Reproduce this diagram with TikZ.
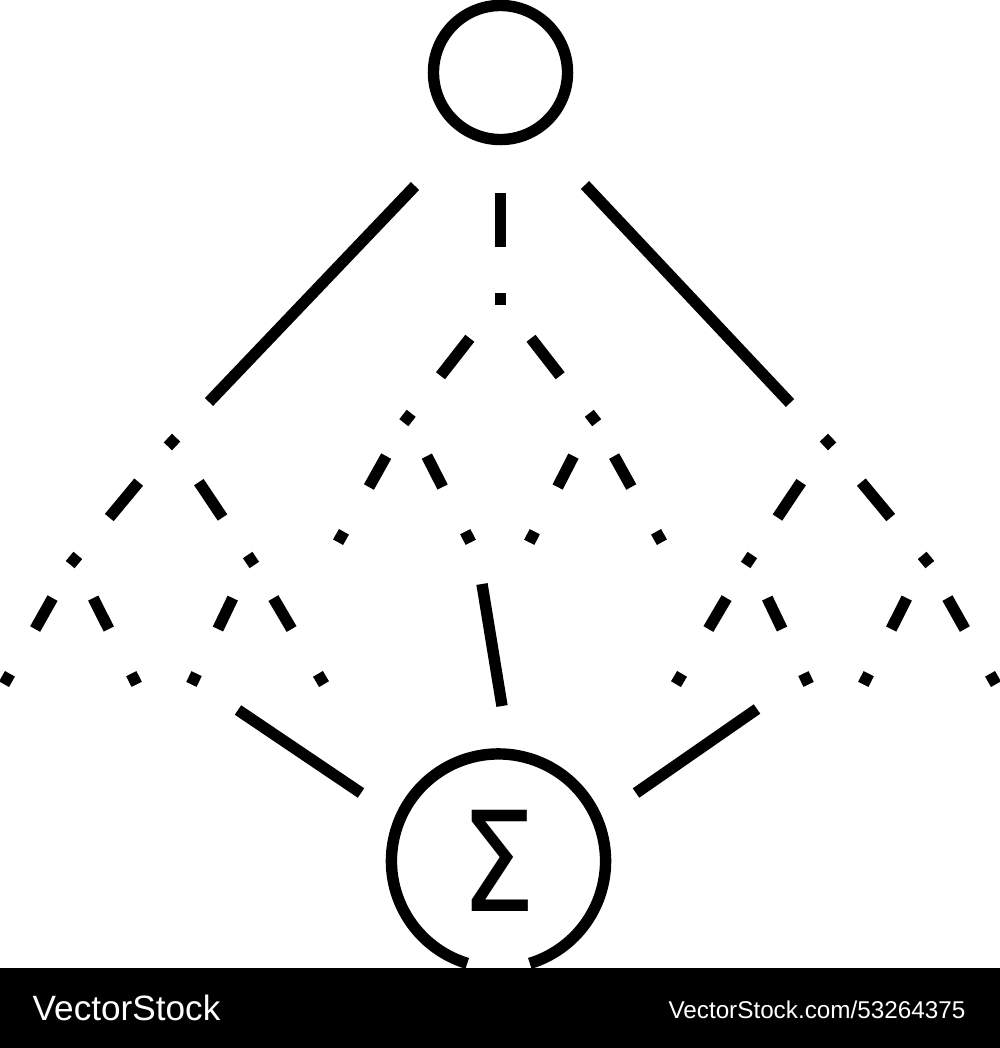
\documentclass[tikz,border=0pt]{standalone}
\usepackage{fontspec}
\setmainfont{Liberation Sans}
\newfontfamily\sigmafont{DejaVu Sans}
\usetikzlibrary{calc}

\newcommand{\dashedge}[4]{\draw[branch] ($(#1)!#3!(#2)$) -- ($(#1)!#4!(#2)$);}
\newcommand{\treedot}[2]{\draw[branch] ($(#1)!1.7pt!(#2)$) -- ($(#1)!-1.7pt!(#2)$);}

\begin{document}
\begin{tikzpicture}[x=0.01cm, y=-0.01cm, line width=3.25pt,
		branch/.style={line cap=butt},
		ring/.style={circle, inner sep=0pt, outer sep=0pt}]
		\useasboundingbox (0,0) rectangle (1000,1048);
		%circles
		\node[ring, draw, minimum size=1.34cm] (top) at (500.5,72.5) {};
		\node[ring, minimum size=2.14cm, font=\sigmafont\fontsize{39.5}{40}\selectfont] (sum) at (498.5,861) {\scalebox{0.86}[1]{Σ}};
		\draw[branch] (sum.253) arc[start angle=253, end angle=-73, radius=1.07cm];
		%points of the trees
		\coordinate (m0) at (500.5,299);
		\coordinate (m1) at (407.5,418);
		\coordinate (m2) at (593,418);
		\coordinate (m11) at (341,537);
		\coordinate (m12) at (468,537);
		\coordinate (m21) at (532,537);
		\coordinate (m22) at (659,537);
		\coordinate (l0) at (172,442);
		\coordinate (l1) at (74,560);
		\coordinate (l2) at (251,560);
		\coordinate (l11) at (7,679);
		\coordinate (l12) at (134,679);
		\coordinate (l21) at (194,679);
		\coordinate (l22) at (321,679);
		\coordinate (r0) at (828,442);
		\coordinate (r1) at (749,560);
		\coordinate (r2) at (926,560);
		\coordinate (r11) at (679,679);
		\coordinate (r12) at (806,679);
		\coordinate (r21) at (866,679);
		\coordinate (r22) at (993,679);
		%solid lines
		\coordinate (tl1) at (415,186);
		\coordinate (tl2) at (209,402);
		\coordinate (tr1) at (585,185);
		\coordinate (tr2) at (790,403);
		\coordinate (bl1) at (238,710);
		\coordinate (bl2) at (361,793);
		\coordinate (bm1) at (482,584);
		\coordinate (bm2) at (502,706);
		\coordinate (br1) at (757,709);
		\coordinate (br2) at (636,793);
		\draw[branch] (tl1) -- (tl2);
		\draw[branch] (tr1) -- (tr2);
		\draw[branch] (bl1) -- (bl2);
		\draw[branch] (bm1) -- (bm2);
		\draw[branch] (br1) -- (br2);
		%middle tree
		\dashedge{top.south}{m0}{0.335}{0.674}
		\dashedge{m0}{m1}{0.33}{0.645}
		\dashedge{m0}{m2}{0.33}{0.645}
		\dashedge{m1}{m11}{0.32}{0.58}
		\dashedge{m1}{m12}{0.32}{0.58}
		\dashedge{m2}{m21}{0.32}{0.58}
		\dashedge{m2}{m22}{0.32}{0.58}
		\treedot{m0}{top.south}
		\treedot{m1}{m0}
		\treedot{m2}{m0}
		\treedot{m11}{m1}
		\treedot{m12}{m1}
		\treedot{m21}{m2}
		\treedot{m22}{m2}
		%left tree
		\dashedge{l0}{l1}{0.34}{0.64}
		\dashedge{l0}{l2}{0.34}{0.64}
		\dashedge{l1}{l11}{0.32}{0.58}
		\dashedge{l1}{l12}{0.32}{0.58}
		\dashedge{l2}{l21}{0.32}{0.58}
		\dashedge{l2}{l22}{0.32}{0.58}
		\treedot{l0}{tl1}
		\treedot{l1}{l0}
		\treedot{l2}{l0}
		\treedot{l11}{l1}
		\treedot{l12}{l1}
		\treedot{l21}{l2}
		\treedot{l22}{l2}
		%right tree
		\dashedge{r0}{r1}{0.34}{0.64}
		\dashedge{r0}{r2}{0.34}{0.64}
		\dashedge{r1}{r11}{0.32}{0.58}
		\dashedge{r1}{r12}{0.32}{0.58}
		\dashedge{r2}{r21}{0.32}{0.58}
		\dashedge{r2}{r22}{0.32}{0.58}
		\treedot{r0}{tr1}
		\treedot{r1}{r0}
		\treedot{r2}{r0}
		\treedot{r11}{r1}
		\treedot{r12}{r1}
		\treedot{r21}{r2}
		\treedot{r22}{r2}
		%watermark
		\fill (0,968) rectangle (1000,1048);
		\node[white, anchor=base west, inner sep=0pt, font=\fontsize{10}{12}\selectfont] (wmleft) at (27,1020) {VectorStock};
		\node[white, anchor=base east, inner sep=0pt, font=\fontsize{6.9}{8}\selectfont] (wmright) at (971,1018.5) {VectorStock.com/53264375};
	\end{tikzpicture}
\end{document}
